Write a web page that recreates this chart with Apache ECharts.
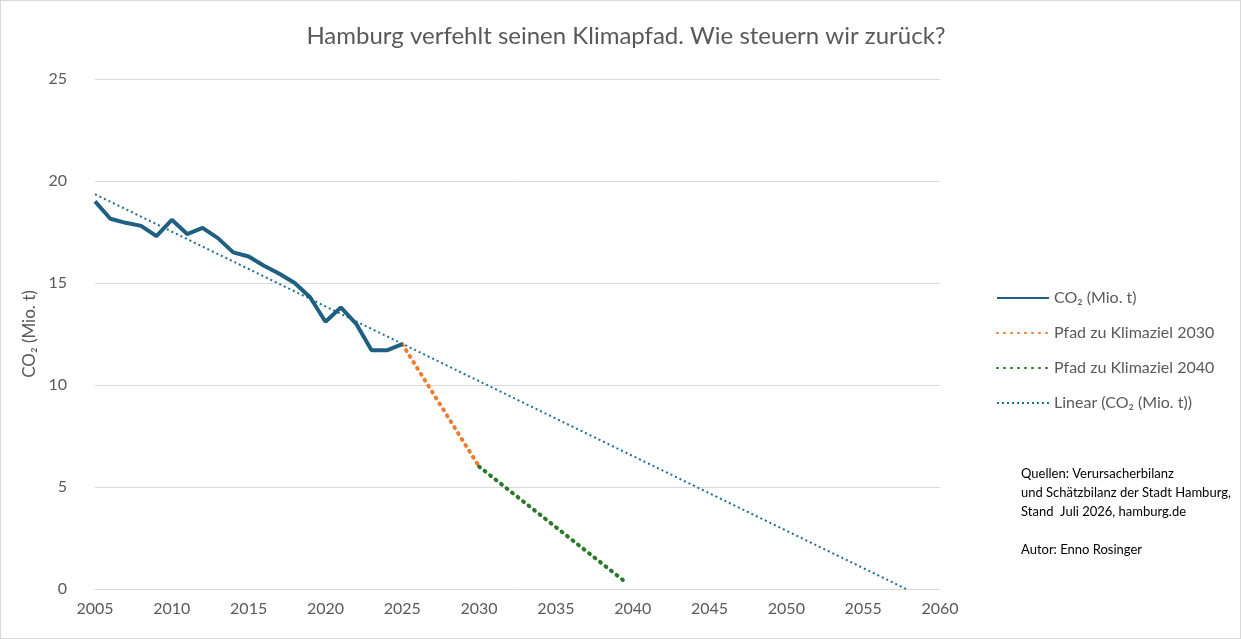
<!DOCTYPE html>
<html><head><meta charset="utf-8">
<script src="https://cdn.jsdelivr.net/npm/echarts@6/dist/echarts.min.js"></script>
<style>html,body{margin:0;padding:0;background:#fff}#c{width:1239px;height:637px;border:1px solid #d9d9d9}</style>
</head><body><div id="c"></div>
<script>
const years = [2005,2006,2007,2008,2009,2010,2011,2012,2013,2014,2015,2016,2017,2018,2019,2020,2021,2022,2023,2024,2025];
const co2 = [19.0,18.15,17.95,17.8,17.3,18.1,17.4,17.7,17.2,16.5,16.3,15.85,15.45,15.0,14.3,13.1,13.8,13.0,11.7,11.7,12.0];
const path2030 = [[2025,12.0],[2030,6.0]];
const path2040 = [[2030,6.0],[2039.6,0.3]];
const trend = [[2005,19.35],[2057.8,0]];
const xTicks = [2005,2060,5];
const yTicks = [0,25,5];
const F = 'Lato, "Open Sans", sans-serif';
const chart = echarts.init(document.getElementById('c'));
chart.setOption({
  animation:false,
  textStyle:{fontFamily:F},
  title:{text:'Hamburg verfehlt seinen Klimapfad. Wie steuern wir zurück?',left:620,top:18,textAlign:'center',
    textStyle:{fontSize:24,fontWeight:'normal',color:'#595959',fontFamily:F}},
  grid:{left:94,right:300,top:78,bottom:49},
  legend:{orient:'vertical',left:990,top:284,itemGap:19,itemWidth:52,textStyle:{fontSize:16,color:'#595959'},
    itemStyle:{opacity:0},
    data:['CO₂ (Mio. t)','Pfad zu Klimaziel 2030','Pfad zu Klimaziel 2040','Linear (CO₂ (Mio. t))']},
  xAxis:{type:'value',min:xTicks[0],max:xTicks[1],interval:xTicks[2],
    axisLine:{lineStyle:{color:'#d9d9d9'}},axisTick:{show:false},splitLine:{show:false},
    axisLabel:{color:'#595959',fontSize:16,margin:12,formatter:v=>String(v)}},
  yAxis:{type:'value',min:yTicks[0],max:yTicks[1],interval:yTicks[2],name:'CO₂ (Mio. t)',nameLocation:'middle',nameGap:55,
    nameTextStyle:{color:'#595959',fontSize:17},
    axisLine:{show:false},axisTick:{show:false},splitLine:{lineStyle:{color:'#d9d9d9'}},
    axisLabel:{color:'#595959',fontSize:16,margin:28}},
  series:[
    {name:'CO₂ (Mio. t)',type:'line',data:years.map((y,i)=>[y,co2[i]]),symbol:'none',
      lineStyle:{color:'#1f5f82',width:4},itemStyle:{color:'#1f5f82'},z:5},
    {name:'Pfad zu Klimaziel 2030',type:'line',data:path2030,symbol:'none',
      lineStyle:{color:'#ed7d31',width:4,type:[1,6],cap:'round'},itemStyle:{color:'#ed7d31'}},
    {name:'Pfad zu Klimaziel 2040',type:'line',data:path2040,symbol:'none',
      lineStyle:{color:'#2a7a2a',width:4,type:[1,6],cap:'round'},itemStyle:{color:'#2a7a2a'}},
    {name:'Linear (CO₂ (Mio. t))',type:'line',data:trend,symbol:'none',
      lineStyle:{color:'#1f6f8f',width:2,type:[2,3]},itemStyle:{color:'#1f6f8f'}}
  ],
  graphic:[{type:'text',left:1020,top:463,style:{text:'Quellen: Verursacherbilanz\nund Schätzbilanz der Stadt Hamburg,\nStand  Juli 2026, hamburg.de\n\nAutor: Enno Rosinger',
    fontSize:13,lineHeight:19,fill:'#000',fontFamily:F}}]
});
</script></body></html>
